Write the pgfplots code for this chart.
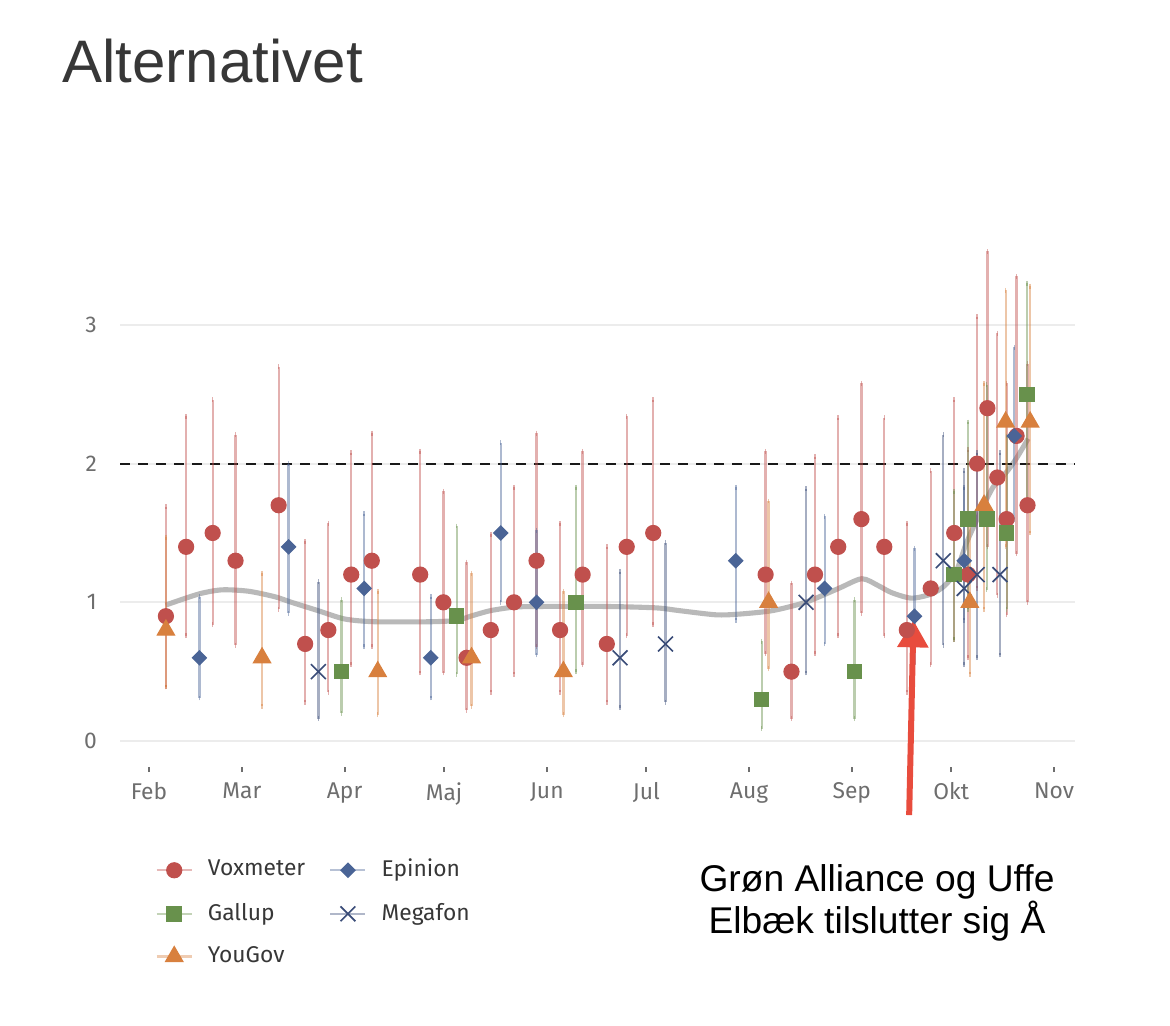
\documentclass[border=0pt]{standalone}
\usepackage{pgfplots}
\pgfplotsset{compat=1.18}
\usepackage{pgfplotstable}
\usepackage{fontspec}
\setmainfont{Fira Sans}
\newfontfamily\arialfont{Liberation Sans}
\usetikzlibrary{arrows.meta}
\definecolor{vox}{RGB}{192,80,77}
\definecolor{epi}{RGB}{74,100,150}
\definecolor{gal}{RGB}{104,145,76}
\definecolor{yg}{RGB}{216,128,62}
\definecolor{meg}{RGB}{58,76,120}
\definecolor{titlegray}{RGB}{55,55,55}
\definecolor{tickgray}{RGB}{110,110,110}
\definecolor{gridgray}{RGB}{236,236,236}
\definecolor{arrowred}{RGB}{232,76,61}

\pgfplotstableread{
x y lo hi
37.1 0.9 0.39 1.69
43.2 1.4 0.76 2.34
51.2 1.5 0.84 2.46
58.1 1.3 0.69 2.21
71.1 1.7 0.95 2.70
79.1 0.7 0.28 1.44
86.1 0.8 0.35 1.57
93.0 1.2 0.55 2.08
99.2 1.3 0.68 2.22
113.8 1.2 0.49 2.09
120.8 1.0 0.49 1.80
127.8 0.6 0.22 1.29
135.1 0.8 0.35 1.49
142.1 1.0 0.48 1.83
148.9 1.3 0.68 2.22
156.0 0.8 0.35 1.57
162.8 1.2 0.55 2.09
170.1 0.7 0.28 1.40
176.1 1.4 0.76 2.34
184.1 1.5 0.84 2.46
218.0 1.2 0.63 2.09
225.8 0.5 0.16 1.14
232.9 1.2 0.63 2.05
239.9 1.4 0.76 2.33
246.9 1.6 0.92 2.58
253.8 1.4 0.76 2.33
260.6 0.8 0.35 1.57
267.8 1.1 0.55 1.95
274.9 1.5 0.73 2.46
279.1 1.2 0.60 2.10
281.8 2.0 1.10 3.06
284.9 2.4 1.40 3.53
287.9 1.9 1.05 2.94
290.7 1.6 0.91 2.58
293.7 2.2 1.35 3.35
297.0 1.7 1.00 2.72
}\tabvox

\pgfplotstableread{
x y lo hi
47.2 0.6 0.31 1.04
74.1 1.4 0.92 2.00
96.9 1.1 0.68 1.64
117.0 0.6 0.31 1.04
138.1 1.5 1.00 2.15
148.9 1.0 0.62 1.52
209.0 1.3 0.87 1.83
235.8 1.1 0.70 1.62
262.9 0.9 0.55 1.39
277.9 1.3 0.87 1.83
293.0 2.2 1.60 2.84
}\tabepi

\pgfplotstableread{
x y lo hi
90.1 0.5 0.20 1.02
124.8 0.9 0.48 1.55
160.8 1.0 0.50 1.83
216.8 0.3 0.09 0.72
244.8 0.5 0.16 1.02
274.9 1.2 0.73 1.80
279.0 1.6 0.95 2.30
284.7 1.6 1.09 2.57
290.7 1.5 0.95 2.20
296.9 2.5 1.70 3.30
}\tabgal

\pgfplotstableread{
x y lo hi
83.1 0.5 0.16 1.15
174.1 0.6 0.24 1.22
187.8 0.7 0.28 1.43
230.2 1.0 0.49 1.82
271.6 1.3 0.69 2.21
277.9 1.1 0.55 1.95
281.8 1.2 0.60 2.08
288.7 1.2 0.62 2.08
}\tabmeg

\pgfplotstableread{
x y lo hi
37.1 0.8 0.39 1.47
66.1 0.6 0.25 1.21
101.0 0.5 0.19 1.08
129.3 0.6 0.25 1.21
157.0 0.5 0.19 1.08
218.9 1.0 0.52 1.73
279.6 1.0 0.48 1.62
283.9 1.7 0.95 2.58
290.4 2.3 1.40 3.25
297.8 2.3 1.50 3.28
}\tabyg

\begin{document}
\begin{tikzpicture}
\useasboundingbox (0,0) rectangle (390pt,341.667pt);
\node[anchor=base west, inner sep=0pt, text=titlegray, font=\arialfont\fontsize{20}{24}\selectfont] at (20.67pt,314pt) {Alternativet};
\begin{axis}[
  at={(40pt,86pt)}, anchor=south west,
  scale only axis, width=318.33pt, height=176pt,
  xmin=23.25, xmax=311.33, ymin=-0.1875, ymax=3.62,
  clip=false,
  axis line style={draw=none},
  xtick={32,60,91,121,152,182,213,244,274,305},
  xticklabels={Feb,Mar,Apr,Maj,Jun,Jul,Aug,Sep,Okt,Nov},
  ytick={0,1,2,3},
  xtick pos=left,
  ymajorgrids, grid style={gridgray, line width=0.7pt},
  tick align=outside, major tick length=1.7pt,
  xtick style={tickgray, line width=0.6pt},
  ytick style={draw=none},
  xmajorgrids=false,
  tick label style={font=\fontsize{7.6}{9}\selectfont, text=tickgray},
  yticklabel style={xshift=-2.5pt},
  /pgf/number format/assume math mode=true,
  legend columns=2,
  legend cell align=left,
  legend style={at={(axis description cs:0.0366,-0.162)}, anchor=north west, draw=none, fill=none,
    font=\fontsize{7.6}{9}\selectfont, text=titlegray, row sep=3.2pt, inner sep=0pt,
    /tikz/every even column/.append style={column sep=6pt},
    /tikz/every odd column/.append style={column sep=3pt}},
  error bars/error mark options={mark size=0.8pt, line width=0.5pt},
]
% trend line
\addplot[forget plot, smooth, tension=0.45, color=black!32, line width=1.7pt, opacity=0.85] coordinates {
(37,0.98) (47,1.06) (54,1.09) (62,1.08) (70,1.04) (75,1.0) (83,0.94) (91,0.88) (100,0.86)
(117,0.86) (125,0.87) (129,0.90) (135,0.94) (142,0.965) (149,0.97) (170,0.97) (185,0.96)
(192,0.94) (203,0.91) (210,0.915) (220,0.94) (230,1.0) (240,1.1) (247,1.17) (252,1.12)
(256,1.07) (262,1.03) (268,1.06) (272,1.12) (275.6,1.23) (278.6,1.43) (282.6,1.64)
(286.6,1.83) (290.7,1.94) (293.7,2.04) (297.2,2.18)};
% threshold
\addplot[forget plot, color=black!90, line width=0.65pt, dash pattern=on 3.3pt off 2.7pt] coordinates {(23.25,2) (311.33,2)};

\addplot[only marks, mark=*, color=vox, mark size=2.5pt, mark options={fill=vox, draw=vox},
  legend image code/.code={\draw[vox, draw opacity=0.4, line width=0.75pt] (0pt,0pt) -- (11.7pt,0pt);
    \draw[only marks] plot coordinates {(5.85pt,0pt)};},
  error bars/.cd, y dir=both, y explicit, error bar style={vox, opacity=0.45, line width=0.75pt}]
  table[x=x, y=y, y error plus expr=\thisrow{hi}-\thisrow{y}, y error minus expr=\thisrow{y}-\thisrow{lo}] {\tabvox};
\addlegendentry{Voxmeter}

\addplot[only marks, mark=square*, color=epi, mark size=1.65pt, mark options={fill=epi, draw=epi, rotate=45},
  legend image code/.code={\draw[epi, draw opacity=0.4, line width=0.75pt] (0pt,0pt) -- (11.7pt,0pt);
    \draw[only marks] plot coordinates {(5.85pt,0pt)};},
  error bars/.cd, y dir=both, y explicit, error bar style={epi, opacity=0.45, line width=0.75pt}]
  table[x=x, y=y, y error plus expr=\thisrow{hi}-\thisrow{y}, y error minus expr=\thisrow{y}-\thisrow{lo}] {\tabepi};
\addlegendentry{Epinion}

\addplot[only marks, mark=square*, color=gal, mark size=2.4pt, mark options={fill=gal, draw=gal},
  legend image code/.code={\draw[gal, draw opacity=0.4, line width=0.75pt] (0pt,0pt) -- (11.7pt,0pt);
    \draw[only marks] plot coordinates {(5.85pt,0pt)};},
  error bars/.cd, y dir=both, y explicit, error bar style={gal, opacity=0.45, line width=0.75pt}]
  table[x=x, y=y, y error plus expr=\thisrow{hi}-\thisrow{y}, y error minus expr=\thisrow{y}-\thisrow{lo}] {\tabgal};
\addlegendentry{Gallup}

\addplot[only marks, mark=x, color=meg, mark size=3.5pt, mark options={draw=meg, line width=0.55pt},
  legend image code/.code={\draw[meg, draw opacity=0.4, line width=0.75pt] (0pt,0pt) -- (11.7pt,0pt);
    \draw[only marks] plot coordinates {(5.85pt,0pt)};},
  error bars/.cd, y dir=both, y explicit, error bar style={meg, opacity=0.45, line width=0.75pt}]
  table[x=x, y=y, y error plus expr=\thisrow{hi}-\thisrow{y}, y error minus expr=\thisrow{y}-\thisrow{lo}] {\tabmeg};
\addlegendentry{Megafon}

\addplot[only marks, mark=triangle*, color=yg, mark size=3.3pt, mark options={fill=yg, draw=yg},
  legend image code/.code={\draw[yg, draw opacity=0.4, line width=0.75pt] (0pt,0pt) -- (11.7pt,0pt);
    \draw[only marks] plot coordinates {(5.85pt,0pt)};},
  error bars/.cd, y dir=both, y explicit, error bar style={yg, opacity=0.45, line width=0.75pt}]
  table[x=x, y=y, y error plus expr=\thisrow{hi}-\thisrow{y}, y error minus expr=\thisrow{y}-\thisrow{lo}] {\tabyg};
\addlegendentry{YouGov}

% annotation
\draw[arrowred, line width=2pt, -{Triangle[width=10pt,length=9pt]}] (axis cs:261.3,-0.534) -- (axis cs:262.6,0.87);
\node[align=center, font=\arialfont\fontsize{12.4}{14}\selectfont, text=black] at (axis cs:251.6,-1.165) {Grøn Alliance og Uffe\\Elbæk tilslutter sig Å};
\end{axis}
\end{tikzpicture}
\end{document}
